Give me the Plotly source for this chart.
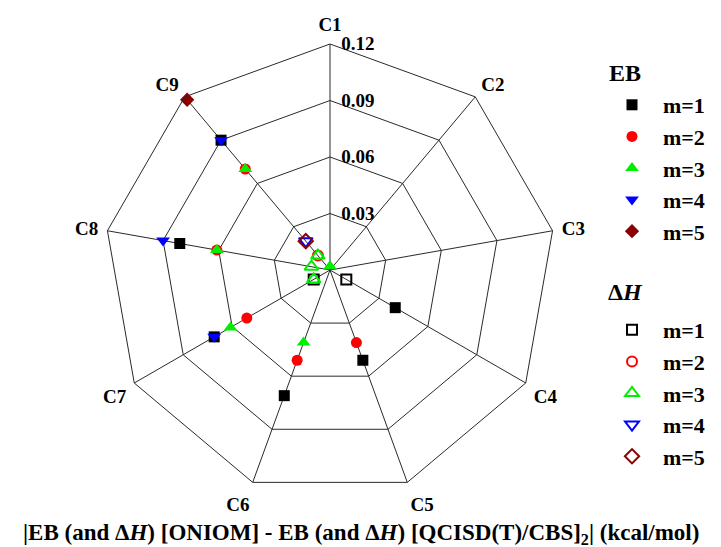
import plotly.graph_objects as go

# Categories around the radar
categories = ["C1", "C2", "C3", "C4", "C5", "C6", "C7", "C8", "C9"]

# |EB(ONIOM) - EB(QCISD(T)/CBS)_2| in kcal/mol, None where no point is plotted
eb_m1 = [None, None, None, 0.040, 0.051, 0.071, 0.071, 0.081, 0.090]
eb_m2 = [None, None, None, None, 0.041, 0.051, 0.051, 0.061, 0.070]
eb_m3 = [0.002, None, None, None, None, 0.041, 0.061, 0.061, 0.070]
eb_m4 = [None, None, None, None, None, None, 0.071, 0.090, 0.090]
eb_m5 = [None, None, None, None, None, None, None, None, 0.118]

# |dH(ONIOM) - dH(QCISD(T)/CBS)_2| in kcal/mol
dh_m1 = [None, None, None, 0.010, None, None, 0.010, None, None]
dh_m2 = [None, None, None, None, None, None, None, None, 0.010]
dh_m3 = [None, None, None, None, None, None, 0.010, 0.010, 0.010]
dh_m4 = [0.0, 0.0, 0.0, 0.0, 0.0, 0.0, 0.0, 0.0, 0.020]
dh_m5 = [None, None, None, None, None, None, None, None, 0.020]

radial_ticks = [0.03, 0.06, 0.09, 0.12]
radial_ticktext = ["0.03", "0.06", "0.09", "0.12"]

series_names = ["m=1", "m=2", "m=3", "m=4", "m=5"]
colors = ["#000000", "#ff0000", "#00ee00", "#0000ff", "#8b0000"]
eb_symbols = ["square", "circle", "triangle-up", "triangle-down", "diamond"]
dh_symbols = ["square-open", "circle-open", "triangle-up-open",
              "triangle-down-open", "diamond-open"]
eb_sizes = [11, 11, 12, 12, 11]
dh_sizes = [10, 10, 12, 12, 11]

FONT = "Liberation Serif"
NB = "\u00a0\u00a0"  # gap between legend symbol and label

fig = go.Figure()

for name, vals, col, sym, sz in zip(series_names,
                                    [eb_m1, eb_m2, eb_m3, eb_m4, eb_m5],
                                    colors, eb_symbols, eb_sizes):
    fig.add_trace(go.Scatterpolar(
        r=vals, theta=categories, mode="markers", name=f"<b>{NB}{name}</b>",
        marker=dict(symbol=sym, color=col, size=sz, line=dict(width=0)),
        legendgroup="eb", legend="legend",
        cliponaxis=False,
    ))

for name, vals, col, sym, sz in zip(series_names,
                                    [dh_m1, dh_m2, dh_m3, dh_m4, dh_m5],
                                    colors, dh_symbols, dh_sizes):
    fig.add_trace(go.Scatterpolar(
        r=vals, theta=categories, mode="markers", name=f"<b>{NB}{name}</b>",
        marker=dict(symbol=sym, color=col, size=sz, line=dict(width=2, color=col)),
        legendgroup="dh", legend="legend2",
        cliponaxis=False,
    ))

grid_col = "#2a2a2a"

fig.update_layout(
    width=721, height=547,
    margin=dict(l=0, r=0, t=0, b=0),
    paper_bgcolor="white",
    plot_bgcolor="white",
    font=dict(family=FONT, color="black"),
    polar=dict(
        domain=dict(x=[104 / 721, 556 / 721], y=[51 / 547, 503 / 547]),
        gridshape="linear",
        bgcolor="white",
        angularaxis=dict(
            categoryorder="array", categoryarray=categories,
            rotation=90, direction="clockwise",
            showline=True, linecolor=grid_col, linewidth=1,
            showgrid=True, gridcolor=grid_col, gridwidth=1,
            ticks="outside", ticklen=5, tickcolor="rgba(0,0,0,0)",
            tickfont=dict(size=19, family=FONT, color="black"),
            tickprefix="<b>", ticksuffix="</b>",
        ),
        radialaxis=dict(
            range=[0, 0.12], angle=90, tickangle=90,
            tickvals=radial_ticks, ticktext=[f"<b>{t}</b>" for t in radial_ticktext],
            showline=False, ticks="outside", ticklen=7, tickcolor="rgba(0,0,0,0)",
            showgrid=True, gridcolor=grid_col, gridwidth=1,
            tickfont=dict(size=19, family=FONT, color="black"),
            side="clockwise",
        ),
    ),
    legend=dict(
        x=612 / 721, y=1 - 84 / 547, xanchor="left", yanchor="top",
        font=dict(size=22, family=FONT, color="black"),
        bgcolor="rgba(0,0,0,0)", itemclick=False, itemdoubleclick=False,
    ),
    legend2=dict(
        x=612 / 721, y=1 - 309 / 547, xanchor="left", yanchor="top",
        font=dict(size=22, family=FONT, color="black"),
        bgcolor="rgba(0,0,0,0)", itemclick=False, itemdoubleclick=False,
    ),
    annotations=[
        dict(text="<b>EB</b>", x=625 / 721, y=1 - 73 / 547,
             xref="paper", yref="paper", xanchor="center", yanchor="middle",
             showarrow=False, font=dict(size=24, family=FONT, color="black")),
        dict(text="<b>Δ<i>H</i></b>", x=625 / 721, y=1 - 292 / 547,
             xref="paper", yref="paper", xanchor="center", yanchor="middle",
             showarrow=False, font=dict(size=24, family=FONT, color="black")),
        dict(text="<b>|EB (and Δ<i>H</i>) [ONIOM] - EB (and Δ<i>H</i>) "
                  "[QCISD(T)/CBS]<sub>2</sub>| (kcal/mol)</b>",
             x=0.5, y=0.0, xref="paper", yref="paper",
             xanchor="center", yanchor="bottom", yshift=-3,
             showarrow=False, font=dict(size=23, family=FONT, color="black")),
    ],
)

fig.write_html("out.html")
